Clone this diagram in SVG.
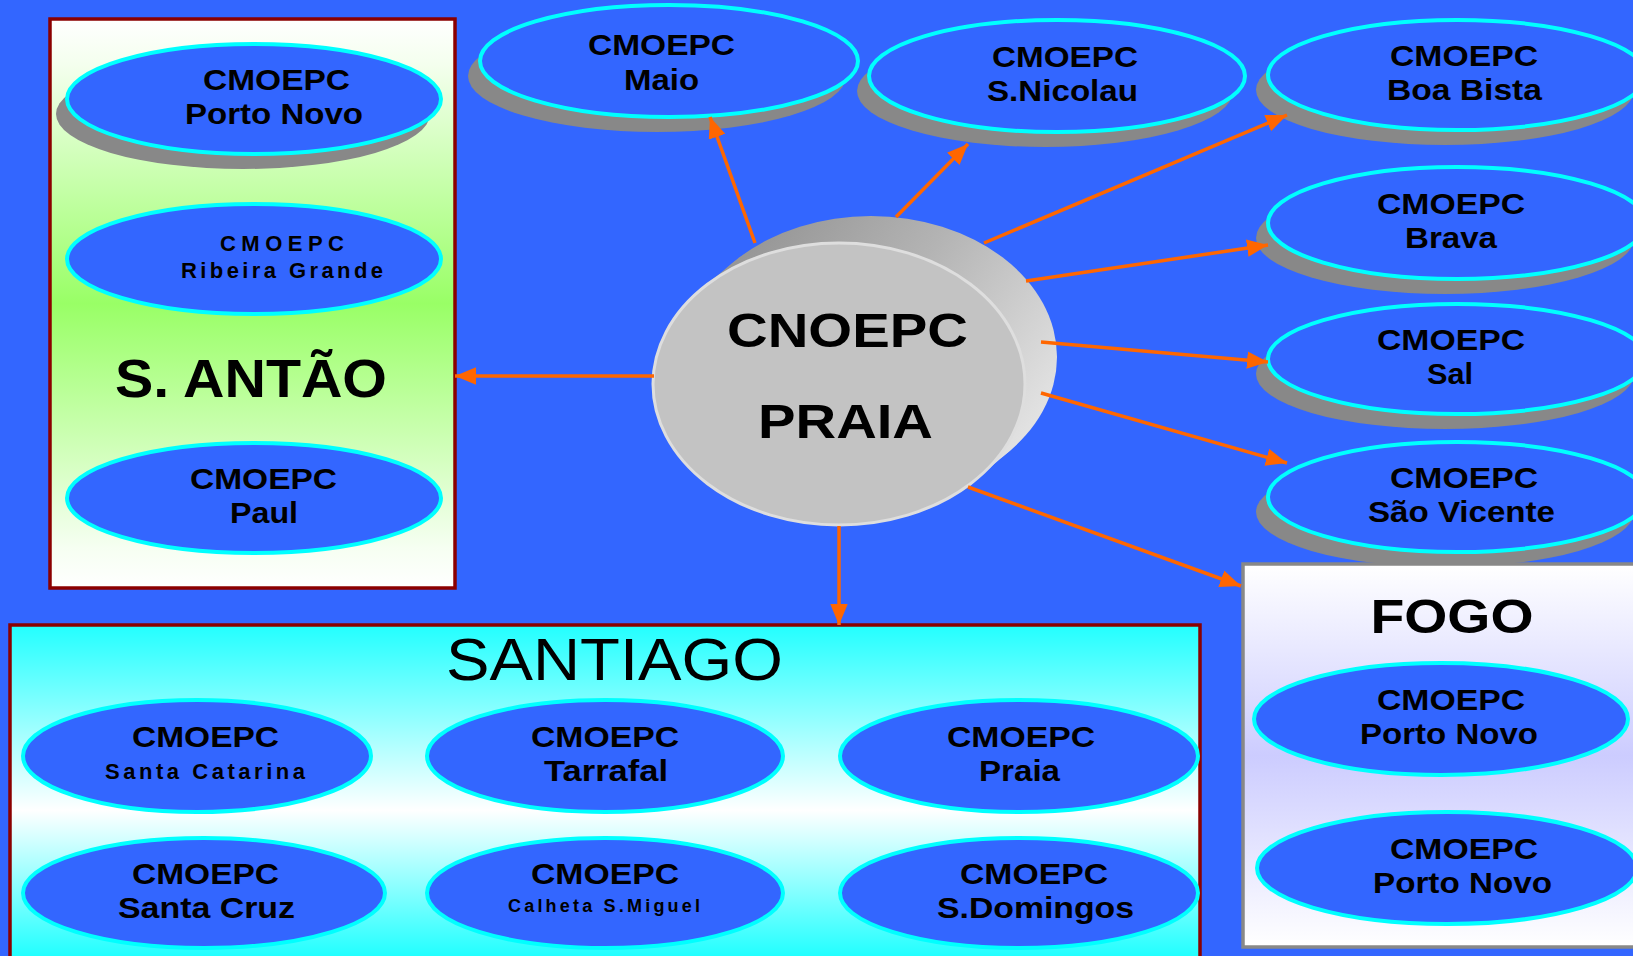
<svg xmlns="http://www.w3.org/2000/svg" width="1633" height="956" viewBox="0 0 1633 956">
<defs>
<style>
.t{font-family:"Liberation Sans",Arial,sans-serif;font-weight:bold;fill:#000;text-anchor:middle;font-size:30px}
.s{font-size:22px}
.xs{font-size:18px}
.node{fill:#3366FF;stroke:#00FFFF;stroke-width:4}
.sh{fill:#888888}
.conn{fill:none;stroke:#FF6600;stroke-width:3.5;marker-end:url(#arr)}
</style>
<marker id="arr" viewBox="0 0 12 10" refX="12" refY="5" markerWidth="6" markerHeight="5" orient="auto" markerUnits="strokeWidth">
<path d="M0,0 L12,5 L0,10 z" fill="#FF6600"/>
</marker>
<linearGradient id="gSantao" x1="0" y1="19" x2="0" y2="588" gradientUnits="userSpaceOnUse">
<stop offset="0" stop-color="#FFFFFF"/>
<stop offset="0.08" stop-color="#F4FFEE"/>
<stop offset="0.5" stop-color="#99FF66"/>
<stop offset="0.93" stop-color="#F6FFF2"/>
<stop offset="1" stop-color="#FFFFFF"/>
</linearGradient>
<linearGradient id="gSantiago" x1="0" y1="625" x2="0" y2="956" gradientUnits="userSpaceOnUse">
<stop offset="0" stop-color="#22FFFF"/>
<stop offset="0.56" stop-color="#FFFFFF"/>
<stop offset="1" stop-color="#22FFFF"/>
</linearGradient>
<linearGradient id="gFogo" x1="0" y1="564" x2="0" y2="947" gradientUnits="userSpaceOnUse">
<stop offset="0" stop-color="#FFFFFF"/>
<stop offset="0.5" stop-color="#CCCCFF"/>
<stop offset="1" stop-color="#FFFFFF"/>
</linearGradient>
<linearGradient id="gCyl" x1="720" y1="220" x2="1060" y2="470" gradientUnits="userSpaceOnUse">
<stop offset="0" stop-color="#8F8F8F"/>
<stop offset="0.45" stop-color="#B4B4B4"/>
<stop offset="1" stop-color="#EEEEEE"/>
</linearGradient>
</defs>
<rect x="0" y="0" width="1633" height="956" fill="#3366FF"/>

<g id="santao">
<rect x="50" y="19" width="405" height="569" fill="url(#gSantao)" stroke="#8B0000" stroke-width="3.5"/>
<text class="t" x="251" y="397" style="font-size:54px" textLength="272" lengthAdjust="spacingAndGlyphs">S. ANTÃO</text>
</g>
<g id="santao-portonovo">
<ellipse class="sh" cx="243" cy="114" rx="187" ry="55"/>
<ellipse class="node" cx="254" cy="99" rx="187" ry="55"/>
<text class="t" x="276.5" y="90" textLength="147" lengthAdjust="spacingAndGlyphs">CMOEPC</text>
<text class="t" x="274" y="124" textLength="178" lengthAdjust="spacingAndGlyphs">Porto Novo</text>
</g>
<g id="santao-ribeiragrande">
<ellipse class="node" cx="254" cy="259" rx="187" ry="55"/>
<text class="t s" x="282" y="251" textLength="124" lengthAdjust="spacing">CMOEPC</text>
<text class="t s" x="282" y="278" textLength="202" lengthAdjust="spacing">Ribeira Grande</text>
</g>
<g id="santao-paul">
<ellipse class="node" cx="254" cy="498" rx="187" ry="55"/>
<text class="t" x="263.5" y="489" textLength="147" lengthAdjust="spacingAndGlyphs">CMOEPC</text>
<text class="t" x="264" y="523" textLength="68" lengthAdjust="spacingAndGlyphs">Paul</text>
</g>

<g id="maio">
<ellipse class="sh" cx="657" cy="76" rx="189" ry="56"/>
<ellipse class="node" cx="669" cy="61" rx="189" ry="56"/>
<text class="t" x="661.5" y="55" textLength="147" lengthAdjust="spacingAndGlyphs">CMOEPC</text>
<text class="t" x="661.5" y="90" textLength="75" lengthAdjust="spacingAndGlyphs">Maio</text>
</g>
<g id="snicolau">
<ellipse class="sh" cx="1045" cy="91" rx="188" ry="56"/>
<ellipse class="node" cx="1057" cy="76" rx="188" ry="56"/>
<text class="t" x="1065" y="67" textLength="146" lengthAdjust="spacingAndGlyphs">CMOEPC</text>
<text class="t" x="1062.5" y="101" textLength="151" lengthAdjust="spacingAndGlyphs">S.Nicolau</text>
</g>
<g id="boabista">
<ellipse class="sh" cx="1445" cy="90" rx="189" ry="55"/>
<ellipse class="node" cx="1457" cy="75" rx="189" ry="55"/>
<text class="t" x="1464" y="66" textLength="148" lengthAdjust="spacingAndGlyphs">CMOEPC</text>
<text class="t" x="1464.5" y="100" textLength="155" lengthAdjust="spacingAndGlyphs">Boa Bista</text>
</g>
<g id="brava">
<ellipse class="sh" cx="1445" cy="238" rx="189" ry="56"/>
<ellipse class="node" cx="1457" cy="223" rx="189" ry="56"/>
<text class="t" x="1451" y="214" textLength="148" lengthAdjust="spacingAndGlyphs">CMOEPC</text>
<text class="t" x="1451" y="248" textLength="92" lengthAdjust="spacingAndGlyphs">Brava</text>
</g>
<g id="sal">
<ellipse class="sh" cx="1445" cy="374" rx="189" ry="55"/>
<ellipse class="node" cx="1457" cy="359" rx="189" ry="55"/>
<text class="t" x="1451" y="350" textLength="148" lengthAdjust="spacingAndGlyphs">CMOEPC</text>
<text class="t" x="1450" y="384" textLength="46" lengthAdjust="spacingAndGlyphs">Sal</text>
</g>
<g id="saovicente">
<ellipse class="sh" cx="1445" cy="512" rx="189" ry="55"/>
<ellipse class="node" cx="1457" cy="497" rx="189" ry="55"/>
<text class="t" x="1464" y="488" textLength="148" lengthAdjust="spacingAndGlyphs">CMOEPC</text>
<text class="t" x="1461.5" y="522" textLength="187" lengthAdjust="spacingAndGlyphs">São Vicente</text>
</g>

<g id="cnoepc-praia">
<ellipse cx="871" cy="357" rx="186" ry="141" fill="url(#gCyl)"/>
<path d="M700.7,289.8 L732.7,262.8 A186,141 0 0 1 1009.3,451.2 L977.3,478.2 Z" fill="url(#gCyl)"/>
<ellipse cx="839" cy="384" rx="186" ry="141" fill="#C3C3C3" stroke="#DEDEDE" stroke-width="3"/>
<text class="t" x="847.5" y="347" style="font-size:49px" textLength="241" lengthAdjust="spacingAndGlyphs">CNOEPC</text>
<text class="t" x="845.5" y="438" style="font-size:49px" textLength="175" lengthAdjust="spacingAndGlyphs">PRAIA</text>
</g>

<g id="santiago">
<rect x="10" y="625" width="1190" height="360" fill="url(#gSantiago)" stroke="#8B0000" stroke-width="3.5"/>
<text x="614.5" y="680" textLength="337" lengthAdjust="spacingAndGlyphs" style="font-family:'Liberation Sans',Arial,sans-serif;font-size:60px;text-anchor:middle;fill:#000">SANTIAGO</text>
</g>
<g id="santiago-santacatarina">
<ellipse class="node" cx="197" cy="756" rx="174" ry="56"/>
<text class="t" x="205.5" y="747" textLength="147" lengthAdjust="spacingAndGlyphs">CMOEPC</text>
<text class="t s" x="205" y="779" textLength="200" lengthAdjust="spacing">Santa Catarina</text>
</g>
<g id="santiago-tarrafal">
<ellipse class="node" cx="605" cy="756" rx="178" ry="56"/>
<text class="t" x="605" y="747" textLength="148" lengthAdjust="spacingAndGlyphs">CMOEPC</text>
<text class="t" x="606" y="781" textLength="124" lengthAdjust="spacingAndGlyphs">Tarrafal</text>
</g>
<g id="santiago-praia">
<ellipse class="node" cx="1019" cy="756" rx="179" ry="56"/>
<text class="t" x="1021" y="747" textLength="148" lengthAdjust="spacingAndGlyphs">CMOEPC</text>
<text class="t" x="1019.5" y="781" textLength="81" lengthAdjust="spacingAndGlyphs">Praia</text>
</g>
<g id="santiago-santacruz">
<ellipse class="node" cx="204" cy="893" rx="181" ry="55"/>
<text class="t" x="205.5" y="884" textLength="147" lengthAdjust="spacingAndGlyphs">CMOEPC</text>
<text class="t" x="206.5" y="918" textLength="177" lengthAdjust="spacingAndGlyphs">Santa Cruz</text>
</g>
<g id="santiago-calheta">
<ellipse class="node" cx="605" cy="893" rx="178" ry="55"/>
<text class="t" x="605" y="884" textLength="148" lengthAdjust="spacingAndGlyphs">CMOEPC</text>
<text class="t xs" x="604" y="912" textLength="192" lengthAdjust="spacing">Calheta S.Miguel</text>
</g>
<g id="santiago-sdomingos">
<ellipse class="node" cx="1019" cy="893" rx="179" ry="55"/>
<text class="t" x="1034" y="884" textLength="148" lengthAdjust="spacingAndGlyphs">CMOEPC</text>
<text class="t" x="1035.5" y="918" textLength="197" lengthAdjust="spacingAndGlyphs">S.Domingos</text>
</g>

<g id="fogo">
<rect x="1243" y="564" width="420" height="383" fill="url(#gFogo)" stroke="#888888" stroke-width="3.5"/>
<text class="t" x="1452" y="633" style="font-size:49px" textLength="163" lengthAdjust="spacingAndGlyphs">FOGO</text>
</g>
<g id="fogo-portonovo1">
<ellipse class="node" cx="1441" cy="719" rx="187" ry="56"/>
<text class="t" x="1451" y="710" textLength="148" lengthAdjust="spacingAndGlyphs">CMOEPC</text>
<text class="t" x="1449" y="744" textLength="178" lengthAdjust="spacingAndGlyphs">Porto Novo</text>
</g>
<g id="fogo-portonovo2">
<ellipse class="node" cx="1447" cy="868" rx="190" ry="56"/>
<text class="t" x="1464" y="859" textLength="148" lengthAdjust="spacingAndGlyphs">CMOEPC</text>
<text class="t" x="1462.5" y="893" textLength="179" lengthAdjust="spacingAndGlyphs">Porto Novo</text>
</g>

<g id="connectors">
<path class="conn" d="M654,376 L455,376"/>
<path class="conn" d="M755,243 L710,117"/>
<path class="conn" d="M896,217 L968,144"/>
<path class="conn" d="M984,243 L1287,115"/>
<path class="conn" d="M1026,281 L1268,245"/>
<path class="conn" d="M1041,342 L1268,362"/>
<path class="conn" d="M1041,393 L1287,463"/>
<path class="conn" d="M968,487 L1241,586"/>
<path class="conn" d="M839,526 L839,625"/>
</g>
</svg>
